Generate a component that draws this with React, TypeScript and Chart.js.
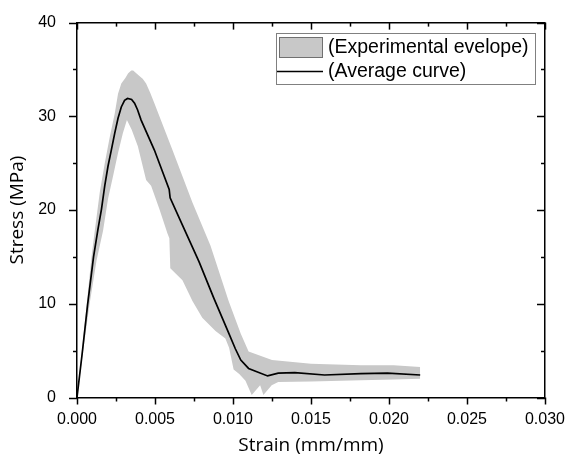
import React, { useEffect, useRef } from "react";
import { Chart, registerables } from "chart.js";

Chart.register(...registerables);

// Average curve (strain mm/mm, stress MPa)
const avgStrain = [0, 0.00034, 0.00068, 0.00106, 0.00134, 0.00157, 0.00178, 0.00199, 0.0022, 0.00242, 0.00263, 0.00284, 0.00305, 0.00324, 0.0035, 0.00369, 0.00388, 0.00411, 0.00496, 0.00591, 0.00597, 0.00676, 0.00782, 0.00877, 0.00972, 0.01015, 0.0105, 0.011, 0.01222, 0.0129, 0.01396, 0.01587, 0.0182, 0.0199, 0.022];
const avgStress = [0, 4.8, 9.9, 15.0, 17.9, 20.1, 22.6, 24.7, 26.4, 28.2, 29.8, 31.0, 31.7, 31.9, 31.8, 31.4, 30.7, 29.6, 26.4, 22.2, 21.3, 18.4, 14.5, 10.6, 6.9, 5.2, 4.0, 3.1, 2.3, 2.6, 2.65, 2.4, 2.55, 2.6, 2.4];

// Experimental envelope, upper bound
const upperStrain = [0, 0.0003, 0.00062, 0.00093, 0.00114, 0.00146, 0.00178, 0.0021, 0.00242, 0.00263, 0.00284, 0.0031, 0.00328, 0.00348, 0.0036, 0.0038, 0.004, 0.00421, 0.00443, 0.0047, 0.00496, 0.00612, 0.0074, 0.00856, 0.00972, 0.0105, 0.011, 0.0125, 0.015, 0.0182, 0.0203, 0.022];
const upperStress = [0, 4.8, 9.9, 15.0, 17.8, 21.9, 25.0, 27.8, 30.3, 32.4, 33.5, 34.1, 34.6, 34.9, 34.9, 34.6, 34.3, 34.0, 33.5, 32.5, 31.4, 26.4, 20.8, 16.2, 10.3, 6.8, 4.9, 4.0, 3.6, 3.45, 3.45, 3.25];

// Experimental envelope, lower bound
const lowerStrain = [0, 0.00038, 0.0008, 0.00125, 0.00167, 0.00199, 0.00231, 0.00263, 0.00294, 0.0032, 0.0035, 0.0039, 0.00443, 0.00475, 0.00528, 0.0058, 0.00592, 0.00598, 0.00676, 0.0074, 0.00803, 0.00888, 0.00951, 0.00975, 0.01004, 0.0104, 0.0108, 0.0112, 0.01174, 0.01195, 0.01248, 0.0129, 0.015, 0.0182, 0.0203, 0.022];
const lowerStress = [0, 4.8, 9.9, 14.6, 17.8, 21.2, 23.6, 26.1, 28.2, 29.6, 28.6, 26.8, 23.2, 22.6, 20.1, 17.5, 17.0, 13.8, 12.5, 10.3, 8.5, 7.1, 6.3, 5.3, 3.0, 2.5, 1.8, 0.26, 1.3, 0.26, 1.3, 1.66, 1.7, 1.85, 1.92, 2.0];

const xTicks = [0, 0.005, 0.01, 0.015, 0.02, 0.025, 0.03];
const yTicks = [0, 10, 20, 30, 40];

const legendLabels = ["(Experimental evelope)", "(Average curve)"];
const ENV_COLOR = "#c8c8c8";

const toPts = (xs: number[], ys: number[]) => xs.map((x, i) => ({ x, y: ys[i] }));

const tickPlugin = {
  id: "frameTicks",
  afterDraw(chart: any) {
    const { ctx, chartArea: a, scales } = chart;
    const xs = scales.x;
    const ys = scales.y;
    ctx.save();
    ctx.strokeStyle = "#000";
    ctx.lineWidth = 1.5;
    const line = (x1: number, y1: number, x2: number, y2: number) => {
      ctx.beginPath();
      ctx.moveTo(x1, y1);
      ctx.lineTo(x2, y2);
      ctx.stroke();
    };
    const nx = xTicks.length - 1;
    for (let i = 0; i <= nx * 2; i++) {
      const v = xTicks[0] + (i * (xTicks[1] - xTicks[0])) / 2;
      const px = Math.round(xs.getPixelForValue(v)) + 0.5;
      const len = i % 2 === 0 ? 7 : 4;
      line(px, a.bottom, px, a.bottom + len);
      line(px, a.top, px, a.top + len);
    }
    const ny = yTicks.length - 1;
    for (let i = 0; i <= ny * 2; i++) {
      const v = yTicks[0] + (i * (yTicks[1] - yTicks[0])) / 2;
      const py = Math.round(ys.getPixelForValue(v)) + 0.5;
      const len = i % 2 === 0 ? 8 : 4;
      line(a.left - len, py, a.left, py);
      line(a.right - len, py, a.right, py);
    }
    ctx.restore();
  },
};

const legendPlugin = {
  id: "boxLegend",
  afterDraw(chart: any) {
    const { ctx } = chart;
    const ds = chart.data.datasets;
    ctx.save();
    ctx.fillStyle = "#fff";
    ctx.fillRect(276, 33, 259, 51);
    ctx.strokeStyle = "#808080";
    ctx.lineWidth = 1;
    ctx.strokeRect(276.5, 33.5, 259, 51);
    // envelope swatch
    ctx.fillStyle = ds[1].backgroundColor;
    ctx.fillRect(279, 37, 44, 21);
    ctx.strokeStyle = "#707070";
    ctx.strokeRect(279.5, 37.5, 43, 20);
    // average line swatch
    ctx.strokeStyle = ds[0].borderColor;
    ctx.lineWidth = 1.5;
    ctx.beginPath();
    ctx.moveTo(277, 71.5);
    ctx.lineTo(323, 71.5);
    ctx.stroke();
    ctx.fillStyle = "#000";
    ctx.font = "19.5px 'Liberation Sans', Arial, sans-serif";
    ctx.textBaseline = "middle";
    ctx.textAlign = "left";
    ctx.fillText(legendLabels[0], 328, 47.5);
    ctx.fillText(legendLabels[1], 328, 71.5);
    ctx.restore();
  },
};

export default function App() {
  const ref = useRef<HTMLCanvasElement>(null);
  useEffect(() => {
    document.body.style.margin = "0";
    const canvas = ref.current;
    if (!canvas) return;
    const tickFont = { family: "'Liberation Sans', Arial, sans-serif", size: 16 };
    const titleFont = { family: "'Open Sans', sans-serif", size: 19 };
    const chart = new Chart(canvas, {
      type: "line",
      data: {
        datasets: [
          {
            label: legendLabels[1],
            data: toPts(avgStrain, avgStress),
            borderColor: "#000",
            borderWidth: 1.7,
            pointRadius: 0,
            fill: false,
            tension: 0,
          },
          {
            label: legendLabels[0],
            data: toPts(upperStrain, upperStress),
            borderColor: "rgba(0,0,0,0)",
            backgroundColor: ENV_COLOR,
            borderWidth: 0,
            pointRadius: 0,
            fill: "+1",
            tension: 0,
          },
          {
            label: "lower",
            data: toPts(lowerStrain, lowerStress),
            borderColor: "rgba(0,0,0,0)",
            backgroundColor: ENV_COLOR,
            borderWidth: 0,
            pointRadius: 0,
            fill: false,
            tension: 0,
          },
        ],
      },
      options: {
        responsive: false,
        animation: false,
        devicePixelRatio: 1,
        layout: { padding: { top: 18, right: 20, left: 0, bottom: 0 } },
        plugins: { legend: { display: false }, tooltip: { enabled: false } },
        scales: {
          x: {
            type: "linear",
            position: "bottom",
            min: 0,
            max: 0.03,
            afterFit: (s: any) => { s.height = 63.5; },
            afterBuildTicks: (s: any) => { s.ticks = xTicks.map((v) => ({ value: v })); },
            ticks: {
              color: "#000",
              font: tickFont,
              padding: 4,
              maxRotation: 0,
              callback: (v: any) => Number(v).toFixed(3),
            },
            grid: { display: false },
            border: { display: true, color: "#000", width: 1.5 },
            title: { display: true, text: "Strain (mm/mm)", color: "#000", font: titleFont, padding: { top: 0, bottom: 4 } },
          },
          x2: {
            type: "linear",
            position: "top",
            min: 0,
            max: 0.03,
            afterFit: (s: any) => { s.height = 0; },
            ticks: { display: false },
            grid: { display: false },
            border: { display: true, color: "#000", width: 1.5 },
          },
          y: {
            type: "linear",
            position: "left",
            min: 0,
            max: 40,
            afterFit: (s: any) => { s.width = 77; },
            afterBuildTicks: (s: any) => { s.ticks = yTicks.map((v) => ({ value: v })); },
            ticks: { color: "#000", font: tickFont, padding: 13 },
            grid: { display: false },
            border: { display: true, color: "#000", width: 1.5 },
            title: { display: true, text: "Stress (MPa)", color: "#000", font: titleFont, padding: { top: 6, bottom: 0 } },
          },
          y2: {
            type: "linear",
            position: "right",
            min: 0,
            max: 40,
            afterFit: (s: any) => { s.width = 0; },
            ticks: { display: false },
            grid: { display: false },
            border: { display: true, color: "#000", width: 1.5 },
          },
        },
      } as any,
      plugins: [tickPlugin, legendPlugin],
    });
    return () => chart.destroy();
  }, []);
  return (
    <canvas ref={ref} width={569} height={461} style={{ display: "block", width: 569, height: 461 }} />
  );
}
